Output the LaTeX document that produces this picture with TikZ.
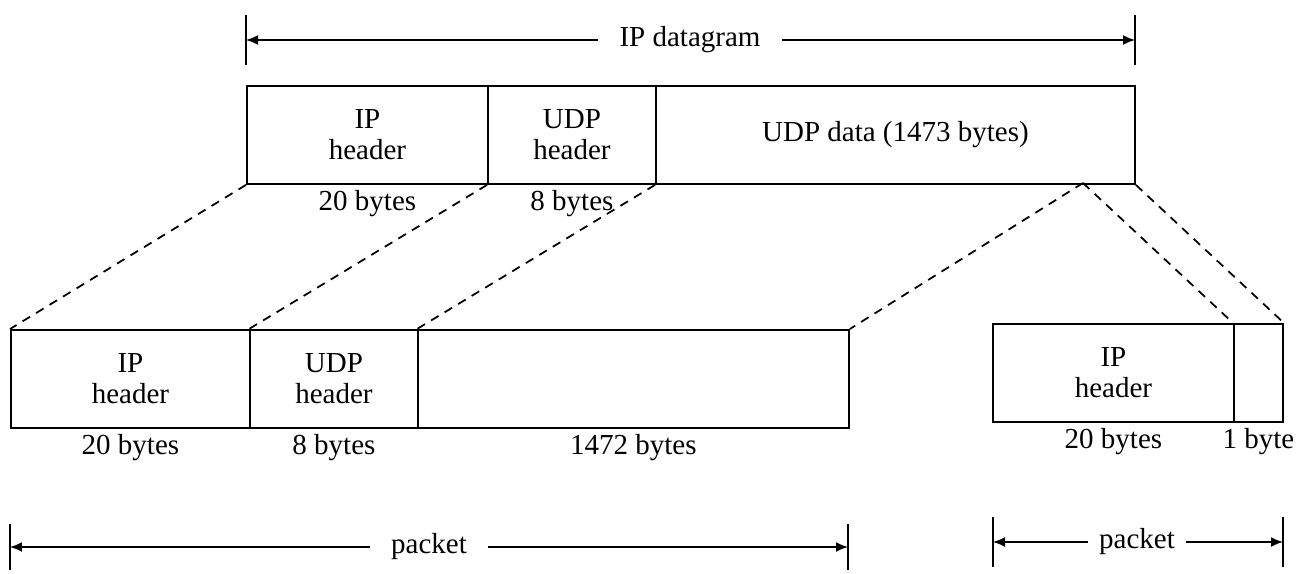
\documentclass[tikz,border=0pt]{standalone}
\usepackage{fontspec}
\setmainfont{Liberation Serif}
\usetikzlibrary{arrows.meta,positioning,calc}
\definecolor{Paper}{HTML}{FFFFFF}
\definecolor{Ink}{HTML}{000000}
\tikzset{field/.style={rectangle,draw=Ink,line width=1.1pt,anchor=north west,minimum height=1.96cm,inner sep=0pt,align=center,text=Ink},sizelabel/.style={text=Ink,inner sep=1pt},split/.style={draw=Ink,line width=1pt,dash pattern=on 5pt off 4pt},span/.style={draw=Ink,line width=0.9pt,-{Latex[length=2.4mm,width=2mm]}},spantick/.style={draw=Ink,line width=1pt},spanlabel/.style={text=Ink,inner ysep=2pt,inner xsep=12pt}}

\begin{document}
\begin{tikzpicture}[font=\fontsize{16.5}{17.5}\selectfont,x=0.02cm,y=-0.02cm]
\useasboundingbox (0,0) rectangle (1301,574);
\fill[Paper] (0,0) rectangle (1301,574);
\node[field,minimum width=4.82cm] (TIP) at (246,85) {IP\\header};
\node[field,minimum width=3.36cm] (TUDP) at (487,85) {UDP\\header};
\node[field,minimum width=9.58cm] (TDATA) at (655,85) {UDP data (1473 bytes)};
\node[sizelabel,below=2pt of TIP] {20 bytes};
\node[sizelabel,below=2pt of TUDP] {8 bytes};
\node[field,minimum width=4.78cm] (LIP) at (10,329) {IP\\header};
\node[field,minimum width=3.36cm] (LUDP) at (249,329) {UDP\\header};
\node[field,minimum width=8.62cm] (LDATA) at (417,329) {};
\node[sizelabel,below=2pt of LIP] {20 bytes};
\node[sizelabel,below=2pt of LUDP] {8 bytes};
\node[sizelabel,below=2pt of LDATA] {1472 bytes};
\node[field,minimum width=4.82cm] (RIP) at (992,323) {IP\\header};
\node[field,minimum width=0.98cm] (RBYTE) at (1233,323) {};
\node[sizelabel,below=2pt of RIP] {20 bytes};
\node[sizelabel,below=2pt of RBYTE] {1 byte};
\coordinate (cut) at (1083,183);
\draw[split] (TIP.south west) -- (LIP.north west);
\draw[split] (TUDP.south west) -- (LUDP.north west);
\draw[split] (TDATA.south west) -- (LDATA.north west);
\draw[split] (cut) -- (LDATA.north east);
\draw[split] (cut) -- (RBYTE.north west);
\draw[split] (TDATA.south east) -- (RBYTE.north east);
\coordinate (dgL) at (246,40);
\coordinate (dgR) at (1135,40);
\node[spanlabel] (dgText) at (690,40) {IP datagram};
\draw[spantick] ($(dgL)+(0,-25)$) -- ($(dgL)+(0,25)$);
\draw[spantick] ($(dgR)+(0,-25)$) -- ($(dgR)+(0,25)$);
\draw[span] (dgText) -- (dgL);
\draw[span] (dgText) -- (dgR);
\coordinate (pkL) at (10,547);
\coordinate (pkR) at (848,547);
\node[spanlabel] (pkText) at (429,547) {packet};
\draw[spantick] ($(pkL)+(0,-23)$) -- ($(pkL)+(0,23)$);
\draw[spantick] ($(pkR)+(0,-23)$) -- ($(pkR)+(0,23)$);
\draw[span] (pkText) -- (pkL);
\draw[span] (pkText) -- (pkR);
\coordinate (rpL) at (993,542);
\coordinate (rpR) at (1283,542);
\node[spanlabel,inner xsep=6pt] (rpText) at (1137,542) {packet};
\draw[spantick] ($(rpL)+(0,-25)$) -- ($(rpL)+(0,25)$);
\draw[spantick] ($(rpR)+(0,-25)$) -- ($(rpR)+(0,25)$);
\draw[span] (rpText) -- (rpL);
\draw[span] (rpText) -- (rpR);
\end{tikzpicture}
\end{document}
